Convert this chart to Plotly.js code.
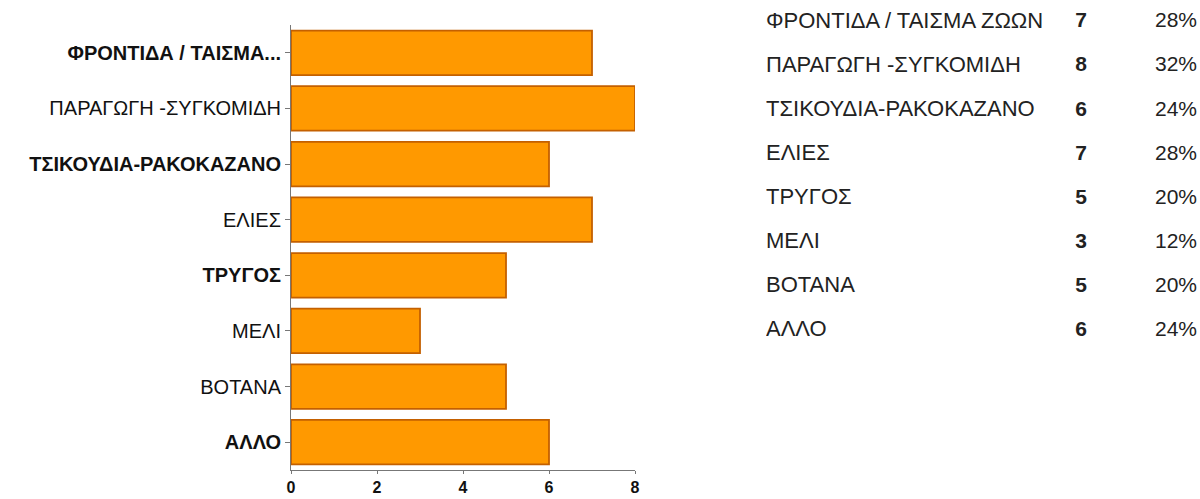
<!DOCTYPE html>
<html>
<head>
<meta charset="utf-8">
<script src="https://cdn.plot.ly/plotly-3.0.1.min.js"></script>
<style>html,body{margin:0;padding:0;background:#fff;}#chart{width:1200px;height:499px;}</style>
</head>
<body>
<div id="chart"></div>
<script>
const categories = ["ΦΡΟΝΤΙΔΑ / ΤΑΙΣΜΑ ΖΩΩΝ", "ΠΑΡΑΓΩΓΗ -ΣΥΓΚΟΜΙΔΗ", "ΤΣΙΚΟΥΔΙΑ-ΡΑΚΟΚΑΖΑΝΟ", "ΕΛΙΕΣ", "ΤΡΥΓΟΣ", "ΜΕΛΙ", "ΒΟΤΑΝΑ", "ΑΛΛΟ"];
const tickLabels = ["<b>ΦΡΟΝΤΙΔΑ / ΤΑΙΣΜΑ...</b>", "ΠΑΡΑΓΩΓΗ -ΣΥΓΚΟΜΙΔΗ", "<b>ΤΣΙΚΟΥΔΙΑ-ΡΑΚΟΚΑΖΑΝΟ</b>", "ΕΛΙΕΣ", "<b>ΤΡΥΓΟΣ</b>", "ΜΕΛΙ", "ΒΟΤΑΝΑ", "<b>ΑΛΛΟ</b>"];
const counts = [7, 8, 6, 7, 5, 3, 5, 6];
const percents = ["28%", "32%", "24%", "28%", "20%", "12%", "20%", "24%"];
const xTicks = [0, 2, 4, 6, 8];

const FONT = "Liberation Sans, Arial, sans-serif";

const bars = {
  type: "bar",
  orientation: "h",
  y: categories,
  x: counts,
  xaxis: "x",
  yaxis: "y",
  marker: { color: "#FF9900", line: { color: "#C46000", width: 1.8 } },
  hoverinfo: "x+y"
};

const tblLabels = {
  type: "scatter", mode: "text", xaxis: "x2", yaxis: "y2",
  y: categories, x: categories.map(() => 0), text: categories,
  textposition: "middle right",
  textfont: { family: FONT, size: 22, color: "#222" },
  hoverinfo: "skip"
};
const tblCounts = {
  type: "scatter", mode: "text", xaxis: "x2", yaxis: "y2",
  y: categories, x: categories.map(() => 315), text: counts.map(v => "<b>" + v + "</b>"),
  textposition: "middle center",
  textfont: { family: FONT, size: 21, color: "#222" },
  hoverinfo: "skip"
};
const tblPct = {
  type: "scatter", mode: "text", xaxis: "x2", yaxis: "y2",
  y: categories, x: categories.map(() => 431), text: percents,
  textposition: "middle left",
  textfont: { family: FONT, size: 21, color: "#222" },
  hoverinfo: "skip"
};

const layout = {
  width: 1200, height: 499,
  margin: { l: 0, r: 0, t: 0, b: 0 },
  paper_bgcolor: "#fff", plot_bgcolor: "#fff",
  showlegend: false,
  bargap: 0.2,
  font: { family: FONT, color: "#111" },
  xaxis: {
    domain: [291 / 1200, 635 / 1200],
    range: [0, 8],
    tickvals: xTicks, ticktext: xTicks.map(v => "<b>" + v + "</b>"),
    showgrid: false, zeroline: false,
    showline: true, linecolor: "#777", linewidth: 1,
    ticks: "outside", ticklen: 3, tickcolor: "#777",
    tickfont: { family: FONT, size: 16, color: "#111" },
    fixedrange: true
  },
  yaxis: {
    domain: [29 / 499, 474 / 499],
    type: "category",
    categoryorder: "array", categoryarray: categories,
    autorange: false, range: [7.5, -0.5],
    tickvals: categories, ticktext: tickLabels,
    showgrid: false, zeroline: false,
    showline: true, linecolor: "#777", linewidth: 1,
    ticks: "outside", ticklen: 5, tickcolor: "#777",
    tickfont: { family: FONT, size: 20, color: "#111" },
    fixedrange: true
  },
  xaxis2: {
    domain: [766 / 1200, 1],
    range: [0, 434],
    anchor: "y2",
    visible: false, fixedrange: true
  },
  yaxis2: {
    domain: [1 - 353 / 499, 1],
    type: "category",
    categoryorder: "array", categoryarray: categories,
    autorange: false, range: [7.5, -0.5],
    anchor: "x2",
    visible: false, fixedrange: true
  }
};

Plotly.newPlot("chart", [bars, tblLabels, tblCounts, tblPct], layout, { displayModeBar: false, staticPlot: true });
</script>
</body>
</html>
